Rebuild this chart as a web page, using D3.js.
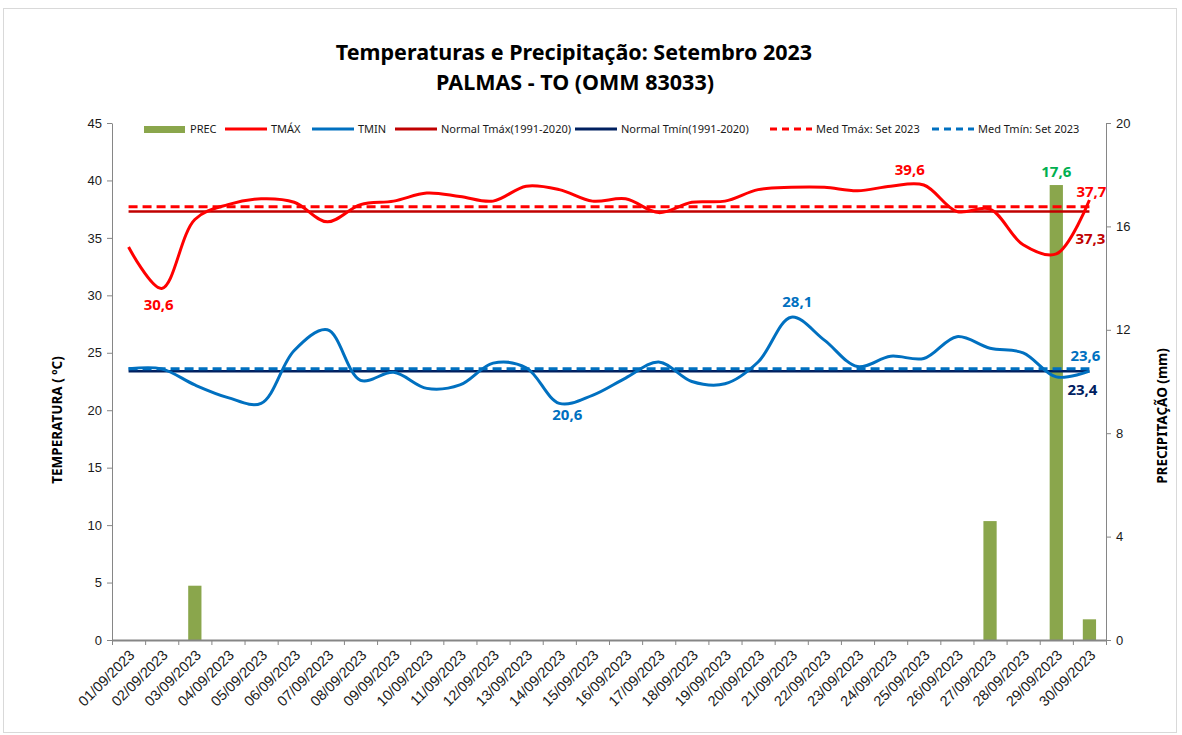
<!DOCTYPE html>
<html>
<head>
<meta charset="utf-8">
<script src="https://cdn.jsdelivr.net/npm/d3@7"></script>
<style>
  body { margin: 0; background: #fff; }
  svg { font-family: "Noto Sans", "Open Sans", sans-serif; }
  .axis path, .axis line { stroke: #868686; }
  .axis text { fill: #1a1a1a; }
</style>
</head>
<body>
<svg id="chart" width="1182" height="735"></svg>
<script>
// dias do mês
const dias = d3.range(1, 31).map(d => String(d).padStart(2, "0") + "/09/2023");

// temperatura máxima diária (ºC)
const tmax = [34.2, 30.6, 36.6, 37.9, 38.4, 38.1, 36.4, 37.9, 38.2, 38.9,
              38.6, 38.2, 39.5, 39.2, 38.2, 38.4, 37.2, 38.1, 38.2, 39.2,
              39.4, 39.4, 39.1, 39.5, 39.6, 37.3, 37.5, 34.4, 33.6, 38.3];

// temperatura mínima diária (ºC)
const tmin = [23.6, 23.6, 22.2, 21.1, 20.6, 25.2, 27.0, 22.6, 23.3, 21.9,
              22.2, 24.1, 23.7, 20.6, 21.3, 22.8, 24.2, 22.5, 22.3, 24.2,
              28.1, 26.1, 23.8, 24.7, 24.5, 26.4, 25.4, 25.0, 22.9, 23.4];

// precipitação diária (mm)
const prec = [0, 0, 2.1, 0, 0, 0, 0, 0, 0, 0,
              0, 0, 0, 0, 0, 0, 0, 0, 0, 0,
              0, 0, 0, 0, 0, 0, 4.6, 0, 17.6, 0.8];

const normalTmax = 37.3, normalTmin = 23.4;
const medTmax = 37.7, medTmin = 23.6;

const tempTicks = d3.range(0, 46, 5);
const precTicks = [0, 4, 8, 12, 16, 20];

const margin = {top: 123, right: 76, bottom: 95, left: 112};
const W = 1182, H = 735;

const svg = d3.select("#chart");

svg.append("rect")
  .attr("x", 3.5).attr("y", 8.5).attr("width", 1173).attr("height", 724)
  .attr("fill", "#fff").attr("stroke", "#d9d9d9");

let scales = {
  x: d3.scaleBand().domain(dias).range([margin.left, W - margin.right]),
  edge: d3.scaleLinear().domain([0, 30]).range([margin.left, W - margin.right]),
  t: d3.scaleLinear().domain([0, 45]).range([H - margin.bottom, margin.top]),
  p: d3.scaleLinear().domain([0, 20]).range([H - margin.bottom, margin.top])
};
const cx = d => scales.x(d) + scales.x.bandwidth() / 2;
const bw = scales.x.bandwidth();

// título
svg.append("text")
  .attr("x", 574).attr("y", 60)
  .attr("text-anchor", "middle")
  .attr("font-size", 21.5).attr("font-weight", "bold")
  .text("Temperaturas e Precipitação: Setembro 2023");
svg.append("text")
  .attr("x", 575).attr("y", 90)
  .attr("text-anchor", "middle")
  .attr("font-size", 21.5).attr("font-weight", "bold")
  .text("PALMAS - TO (OMM 83033)");

// barras de precipitação
svg.append("g")
  .selectAll("rect")
  .data(prec).enter()
  .append("rect")
  .attr("x", (d, i) => scales.x(dias[i]) + bw * 0.3)
  .attr("width", bw * 0.4)
  .attr("y", d => scales.p(d))
  .attr("height", d => scales.p(0) - scales.p(d))
  .attr("fill", "#8aa64c");

// eixos
let yLeft = svg.append("g").attr("class", "axis")
  .attr("transform", `translate(${margin.left},0)`)
  .call(d3.axisLeft(scales.t).tickValues(tempTicks).tickSize(5).tickSizeOuter(0));
yLeft.selectAll("text").attr("font-size", 13).attr("x", -10);

let yRight = svg.append("g").attr("class", "axis")
  .attr("transform", `translate(${W - margin.right},0)`)
  .call(d3.axisRight(scales.p).tickValues(precTicks).tickSize(5).tickSizeOuter(0));
yRight.selectAll("text").attr("font-size", 13).attr("x", 10);

let xTicks = svg.append("g").attr("class", "axis")
  .attr("transform", `translate(0,${H - margin.bottom})`)
  .call(d3.axisBottom(scales.edge).ticks(30).tickFormat("").tickSize(5).tickSizeOuter(0));
xTicks.select("path").attr("stroke", "#bfbfbf").attr("stroke-width", 2);

let xLabels = svg.append("g")
  .attr("transform", `translate(0,${H - margin.bottom})`)
  .call(d3.axisBottom(scales.x).tickSize(0));
xLabels.select("path").remove();
xLabels.selectAll("text")
  .attr("font-size", 14.5)
  .attr("fill", "#1a1a1a")
  .attr("text-anchor", "end")
  .attr("dy", null).attr("y", 0)
  .attr("transform", "translate(7,16) rotate(-45)");

// títulos dos eixos
svg.append("text")
  .attr("transform", "translate(62,420) rotate(-90)")
  .attr("text-anchor", "middle")
  .attr("font-size", 13.5).attr("font-weight", "bold")
  .text("TEMPERATURA ( ºC)");
svg.append("text")
  .attr("transform", "translate(1167,416) rotate(-90)")
  .attr("text-anchor", "middle")
  .attr("font-size", 13.5).attr("font-weight", "bold")
  .text("PRECIPITAÇÃO (mm)");

// linhas de referência
const x0 = cx(dias[0]), x1 = cx(dias[29]);
function hline(v, color, width, dash) {
  svg.append("line")
    .attr("x1", x0).attr("x2", x1)
    .attr("y1", scales.t(v)).attr("y2", scales.t(v))
    .attr("stroke", color).attr("stroke-width", width)
    .attr("stroke-dasharray", dash || null);
}
hline(normalTmax, "#c00000", 2.5);
hline(normalTmin, "#002060", 2.5);
hline(medTmax, "#ff0000", 3, "9,5");
hline(medTmin, "#0070c0", 3, "9,5");

// séries diárias
let line = d3.line()
  .x((d, i) => cx(dias[i]))
  .y(d => scales.t(d))
  .curve(d3.curveCatmullRom.alpha(0.5));

svg.append("path").attr("d", line(tmin))
  .attr("fill", "none").attr("stroke", "#0070c0").attr("stroke-width", 3);
svg.append("path").attr("d", line(tmax))
  .attr("fill", "none").attr("stroke", "#ff0000").attr("stroke-width", 3);

// rótulos de valores
function label(x, y, txt, color) {
  svg.append("text")
    .attr("x", x).attr("y", y)
    .attr("text-anchor", "middle")
    .attr("font-size", 15).attr("font-weight", "bold")
    .attr("fill", color)
    .text(txt);
}
const fmt = v => String(v.toFixed(1)).replace(".", ",");
label(cx(dias[1]) - 3, scales.t(tmax[1]) + 22, fmt(tmax[1]), "#ff0000");
label(cx(dias[24]) - 14, scales.t(tmax[24]) - 10, fmt(tmax[24]), "#ff0000");
label(cx(dias[20]) + 6, scales.t(tmin[20]) - 10, fmt(tmin[20]), "#0070c0");
label(cx(dias[13]) + 8, scales.t(tmin[13]) + 17, fmt(tmin[13]), "#0070c0");
label(cx(dias[28]), scales.p(prec[28]) - 8, fmt(prec[28]), "#00b050");
label(x1 + 2, scales.t(medTmax) - 10, fmt(medTmax), "#ff0000");
label(x1 + 1, scales.t(normalTmax) + 33, fmt(normalTmax), "#c00000");
label(x1 - 4, scales.t(medTmin) - 8, fmt(medTmin), "#0070c0");
label(x1 - 7, scales.t(normalTmin) + 24, fmt(normalTmin), "#002060");

// legenda
const legend = [
  {name: "PREC", x: 144, type: "rect", color: "#8aa64c"},
  {name: "TMÁX", x: 225, type: "line", color: "#ff0000"},
  {name: "TMIN", x: 312, type: "line", color: "#0070c0"},
  {name: "Normal Tmáx(1991-2020)", x: 395, type: "line", color: "#c00000"},
  {name: "Normal Tmín(1991-2020)", x: 575, type: "line", color: "#002060"},
  {name: "Med Tmáx: Set 2023", x: 770, type: "dash", color: "#ff0000"},
  {name: "Med Tmín: Set 2023", x: 932, type: "dash", color: "#0070c0"}
];
let lg = svg.append("g").selectAll("g").data(legend).enter().append("g")
  .attr("transform", d => `translate(${d.x},129)`);
lg.filter(d => d.type == "rect").append("rect")
  .attr("x", 0).attr("y", -3).attr("width", 41).attr("height", 7)
  .attr("fill", d => d.color);
lg.filter(d => d.type != "rect").append("line")
  .attr("x1", 0).attr("x2", 42).attr("y1", 0).attr("y2", 0)
  .attr("stroke", d => d.color).attr("stroke-width", 3)
  .attr("stroke-dasharray", d => d.type == "dash" ? "7,5" : null);
lg.append("text")
  .attr("x", 46).attr("y", 4)
  .attr("font-size", 11).attr("fill", "#1a1a1a")
  .text(d => d.name);
</script>
</body>
</html>
